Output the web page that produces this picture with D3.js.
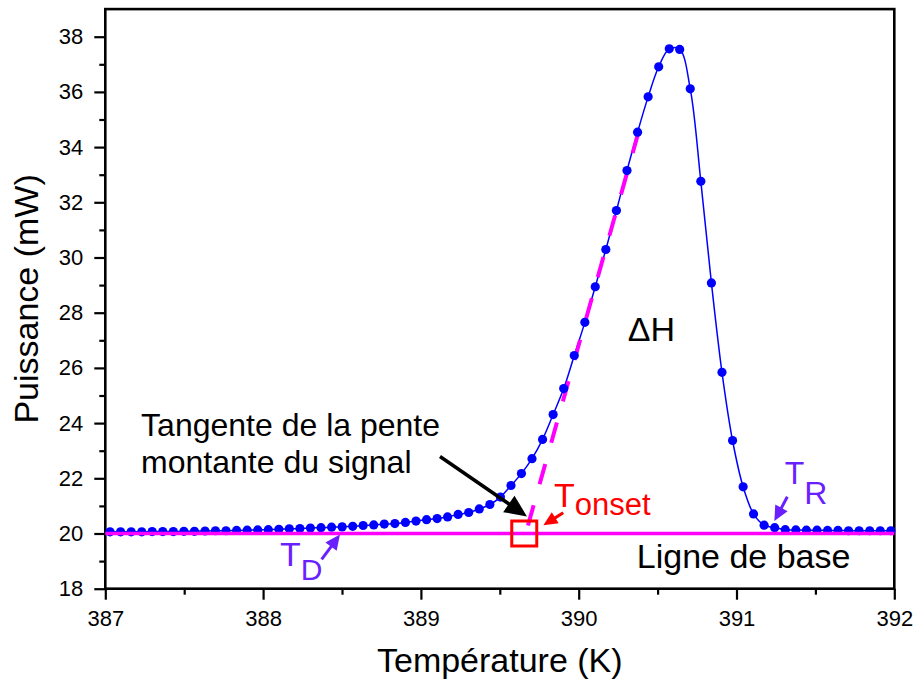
<!DOCTYPE html>
<html><head><meta charset="utf-8">
<script src="https://cdn.jsdelivr.net/npm/d3@7"></script>
<style>body{margin:0;background:#fff} svg{display:block} text{font-family:"Liberation Sans",Arial,sans-serif}</style>
</head><body><svg id="c" width="915" height="679"></svg>
<script>
// ---- data ----
const temps = [387.030,387.097,387.164,387.231,387.297,387.364,387.431,387.498,387.565,387.632,
387.698,387.765,387.832,387.899,387.966,388.033,388.100,388.166,388.233,388.300,
388.367,388.434,388.501,388.568,388.634,388.701,388.768,388.835,388.902,388.969,
389.036,389.103,389.169,389.236,389.303,389.370,389.437,389.504,389.571,389.637,
389.704,389.771,389.838,389.905,389.972,390.039,390.105,390.172,390.239,390.306,
390.373,390.440,390.507,390.574,390.640,390.707,390.774,390.841,390.908,390.975,
391.042,391.108,391.175,391.242,391.309,391.376,391.443,391.510,391.577,391.643,
391.710,391.777,391.844,391.911,391.978];
const power = [20.06,20.06,20.06,20.06,20.07,20.07,20.07,20.08,20.08,20.09,
20.10,20.10,20.11,20.12,20.13,20.14,20.15,20.17,20.18,20.20,
20.21,20.23,20.24,20.26,20.29,20.31,20.34,20.36,20.40,20.45,
20.50,20.54,20.60,20.69,20.76,20.89,21.05,21.32,21.74,22.17,
22.71,23.41,24.31,25.25,26.45,27.65,28.94,30.29,31.70,33.15,
34.54,35.82,36.91,37.56,37.54,36.11,32.76,29.08,25.84,23.37,
21.69,20.71,20.30,20.21,20.14,20.13,20.12,20.12,20.11,20.11,
20.10,20.10,20.10,20.10,20.10];
const xMajor = [387,388,389,390,391,392];
const xMinor = [387.5,388.5,389.5,390.5,391.5];
const yMajor = [18,20,22,24,26,28,30,32,34,36,38];
const yMinor = [19,21,23,25,27,29,31,33,35,37];
const xTitle = "Température (K)";
const yTitle = "Puissance (mW)";
const baseValue = 20;
const tangentT = [390.378, 389.677];
const tangentP = [34.52, 20.26];
const onsetT = 389.655;

// ---- layout ----
const svg = d3.select("#c");
const L = 105.3, R = 894.3, T = 9.1, B = 588.7;
const x = d3.scaleLinear([387, 392], [L, R]);
const y = d3.scaleLinear([18, 39], [B, T]);
const FONT = '"Liberation Sans", Arial, sans-serif';

// axes
function styleAxis(g){ g.select(".domain").remove(); g.selectAll("line").attr("stroke","#000").attr("stroke-width",2.2);
  g.selectAll("text").attr("font-size",22).attr("font-family",FONT).attr("fill","#000"); }
svg.append("g").attr("transform",`translate(0,${B})`)
  .call(d3.axisBottom(x).tickValues(xMajor).tickSize(11).tickPadding(11).tickFormat(d3.format("d"))).call(styleAxis);
svg.append("g").attr("transform",`translate(0,${B})`)
  .call(d3.axisBottom(x).tickValues(xMinor).tickSize(6).tickFormat("")).call(styleAxis);
svg.append("g").attr("transform",`translate(${L},0)`)
  .call(d3.axisLeft(y).tickValues(yMajor).tickSize(11).tickPadding(11).tickFormat(d3.format("d"))).call(styleAxis);
svg.append("g").attr("transform",`translate(${L},0)`)
  .call(d3.axisLeft(y).tickValues(yMinor).tickSize(6).tickFormat("")).call(styleAxis);

// frame
svg.append("rect").attr("x",L).attr("y",T).attr("width",R-L).attr("height",B-T)
  .attr("fill","none").attr("stroke","#000").attr("stroke-width",2.6);

// titles
svg.append("text").attr("x",(L+R)/2).attr("y",672).attr("text-anchor","middle")
  .attr("font-size",34).attr("font-family",FONT).text(xTitle);
svg.append("text").attr("transform",`translate(38,${(T+B)/2}) rotate(-90)`).attr("text-anchor","middle")
  .attr("font-size",34).attr("font-family",FONT).text(yTitle);

// data
const pts = temps.map((t,i)=>({t, p: power[i]}));
svg.append("path").datum(pts).attr("fill","none").attr("stroke","#0000ff").attr("stroke-width",1.5)
  .attr("d", d3.line().x(d=>x(d.t)).y(d=>y(d.p)).curve(d3.curveCatmullRom.alpha(0.5)));

// tangent
svg.append("line").attr("x1",x(tangentT[0])).attr("y1",y(tangentP[0])).attr("x2",x(tangentT[1])).attr("y2",y(tangentP[1]))
  .attr("stroke","#ff00ff").attr("stroke-width",4).attr("stroke-dasharray","21,22");

svg.append("g").selectAll("circle").data(pts).join("circle")
  .attr("cx",d=>x(d.t)).attr("cy",d=>y(d.p)).attr("r",4.6).attr("fill","#0000ff");

// baseline
svg.append("line").attr("x1",L).attr("x2",R).attr("y1",y(baseValue)).attr("y2",y(baseValue))
  .attr("stroke","#ff00ff").attr("stroke-width",3.5);

// onset square
svg.append("rect").attr("x",x(onsetT)-12.5).attr("y",y(baseValue)-12.5).attr("width",25).attr("height",25)
  .attr("fill","none").attr("stroke","#ff0000").attr("stroke-width",3);

// arrows
function arrow(t1,p1,t2,p2,color,w,hl,hw){
  const x1=x(t1),y1=y(p1),x2=x(t2),y2=y(p2);
  const dx=x2-x1, dy=y2-y1, len=Math.hypot(dx,dy), ux=dx/len, uy=dy/len;
  const bx=x2-ux*hl, by=y2-uy*hl;
  svg.append("line").attr("x1",x1).attr("y1",y1).attr("x2",bx+ux*2).attr("y2",by+uy*2)
    .attr("stroke",color).attr("stroke-width",w);
  svg.append("polygon").attr("points",[[x2,y2],[bx-uy*hw/2,by+ux*hw/2],[bx+uy*hw/2,by-ux*hw/2]].map(p=>p.join(",")).join(" "))
    .attr("fill",color);
}
const purple = "#6a1fff";
arrow(389.121,22.79,389.672,20.62,"#000",3.5,22,20);
arrow(389.902,20.75,389.776,20.30,"#ff0000",3,14,13);
arrow(388.371,19.06,388.487,19.96,purple,3,15,14);
arrow(391.322,21.33,391.240,20.45,purple,3,15,14);

// labels
function txt(t,p,s,size,color){ return svg.append("text").attr("x",x(t)).attr("y",y(p)).attr("font-size",size)
  .attr("font-family",FONT).attr("fill",color||"#000").text(s); }
txt(387.227,23.53,"Tangente de la pente",32);
txt(387.227,22.21,"montante du signal",32);
txt(390.311,26.99,"ΔH",34);
txt(390.368,18.76,"Ligne de base",34);

function sub(t,p,main,subs,color,ms,ss,dy){
  const e = svg.append("text").attr("x",x(t)).attr("y",y(p)).attr("font-family",FONT).attr("fill",color);
  e.append("tspan").attr("font-size",ms).text(main);
  e.append("tspan").attr("font-size",ss).attr("dy",dy).text(subs);
}
sub(388.107,18.82,"T","D",purple,34,30,14);
sub(391.306,21.78,"T","R",purple,32,32,20);
sub(389.843,20.95,"T","onset",'#ff0000',34,31,8);
</script></body></html>
